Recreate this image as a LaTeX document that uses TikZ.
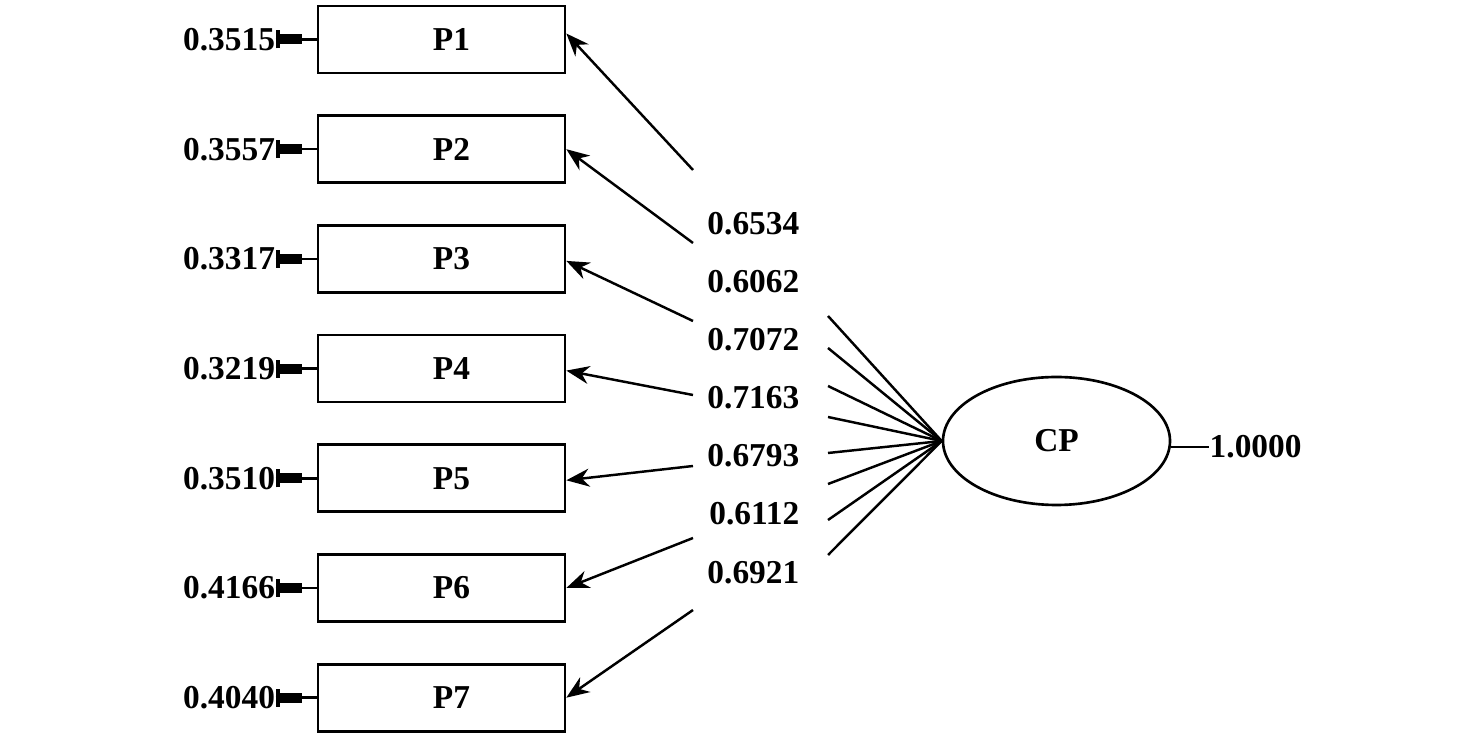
\documentclass[tikz,border=0pt]{standalone}
\usepackage{fontspec}
\setmainfont{Liberation Serif}
\usepackage{tikz}
\usetikzlibrary{shapes.geometric,arrows.meta}

\begin{document}
\begin{tikzpicture}[
    node distance=1.097cm,
    font=\fontsize{9.5}{11}\selectfont\bfseries,
    box/.style={rectangle, draw, line width=0.75pt, minimum width=2.47cm, minimum height=0.67cm, text centered, execute at begin node=\hspace*{0.2cm}},
    latent/.style={ellipse, draw, line width=0.75pt, minimum width=2.27cm, minimum height=1.28cm},
    arrow/.style={-{Stealth[length=2.3mm,width=1.8mm]}, line width=0.7pt},
    link/.style={line width=0.7pt},
    err/.style={anchor=east, inner sep=0pt}
]
\useasboundingbox (0,0) rectangle (14.76,-7.40);

% observed items
\node[box] (p1) at (4.415,-0.395) {P1};
\node[box, below of=p1] (p2) {P2};
\node[box, below of=p2] (p3) {P3};
\node[box, below of=p3] (p4) {P4};
\node[box, below of=p4] (p5) {P5};
\node[box, below of=p5] (p6) {P6};
\node[box, below of=p6] (p7) {P7};

% latent factor
\node[latent] (cp) at (10.565,-4.41) {CP};
\node[anchor=west, inner sep=0pt] (total) at (12.09,-4.47) {1.0000};
\draw[link] (cp.east |- total) -- (total.west);

% error terms
\node[err] (e1) at ([xshift=-0.41cm]p1.west) {0.3515};
\node[err] (e2) at ([xshift=-0.41cm]p2.west) {0.3557};
\node[err] (e3) at ([xshift=-0.41cm]p3.west) {0.3317};
\node[err] (e4) at ([xshift=-0.41cm]p4.west) {0.3219};
\node[err] (e5) at ([xshift=-0.41cm]p5.west) {0.3510};
\node[err] (e6) at ([xshift=-0.41cm]p6.west) {0.4166};
\node[err] (e7) at ([xshift=-0.41cm]p7.west) {0.4040};
\foreach \i in {1,...,7}{
  \draw[link] (e\i.east) -- (p\i.west);
  \fill ([xshift=0.02cm,yshift=-0.05cm]e\i.east) rectangle ++(0.24,0.10);
  \draw[line width=1.2pt] ([xshift=0.02cm,yshift=-0.09cm]e\i.east) -- ++(0,0.18);
}

% loadings
\node[err] (l1) at (8.00,-2.24) {0.6534};
\node[err] (l2) at (8.00,-2.82) {0.6062};
\node[err] (l3) at (8.00,-3.40) {0.7072};
\node[err] (l4) at (8.00,-3.98) {0.7163};
\node[err] (l5) at (8.00,-4.56) {0.6793};
\node[err] (l6) at (8.00,-5.14) {0.6112};
\node[err] (l7) at (8.00,-5.73) {0.6921};

% arrow starts, left of the labels
\coordinate (a1) at (6.93,-1.70);
\coordinate (a2) at (6.93,-2.43);
\coordinate (a3) at (6.93,-3.21);
\coordinate (a4) at (6.93,-3.95);
\coordinate (a5) at (6.93,-4.66);
\coordinate (a6) at (6.93,-5.38);
\coordinate (a7) at (6.93,-6.10);
\draw[arrow] (a1) -- ([yshift=0.06cm]p1.east);
\draw[arrow] (a2) -- (p2.east);
\draw[arrow] (a3) -- ([yshift=-0.02cm]p3.east);
\draw[arrow] (a4) -- ([yshift=-0.02cm]p4.east);
\draw[arrow] (a5) -- ([yshift=-0.02cm]p5.east);
\draw[arrow] (a6) -- (p6.east);
\draw[arrow] (a7) -- (p7.east);

% fan from the factor, right of the labels
\coordinate (b1) at (8.28,-3.16);
\coordinate (b2) at (8.28,-3.48);
\coordinate (b3) at (8.28,-3.86);
\coordinate (b4) at (8.28,-4.17);
\coordinate (b5) at (8.28,-4.53);
\coordinate (b6) at (8.28,-4.84);
\coordinate (b7) at (8.28,-5.20);
\coordinate (b8) at (8.28,-5.55);
\draw[link] (cp.west) -- (b1);
\draw[link] (cp.west) -- (b2);
\draw[link] (cp.west) -- (b3);
\draw[link] (cp.west) -- (b4);
\draw[link] (cp.west) -- (b5);
\draw[link] (cp.west) -- (b6);
\draw[link] (cp.west) -- (b7);
\draw[link] (cp.west) -- (b8);
\end{tikzpicture}
\end{document}
